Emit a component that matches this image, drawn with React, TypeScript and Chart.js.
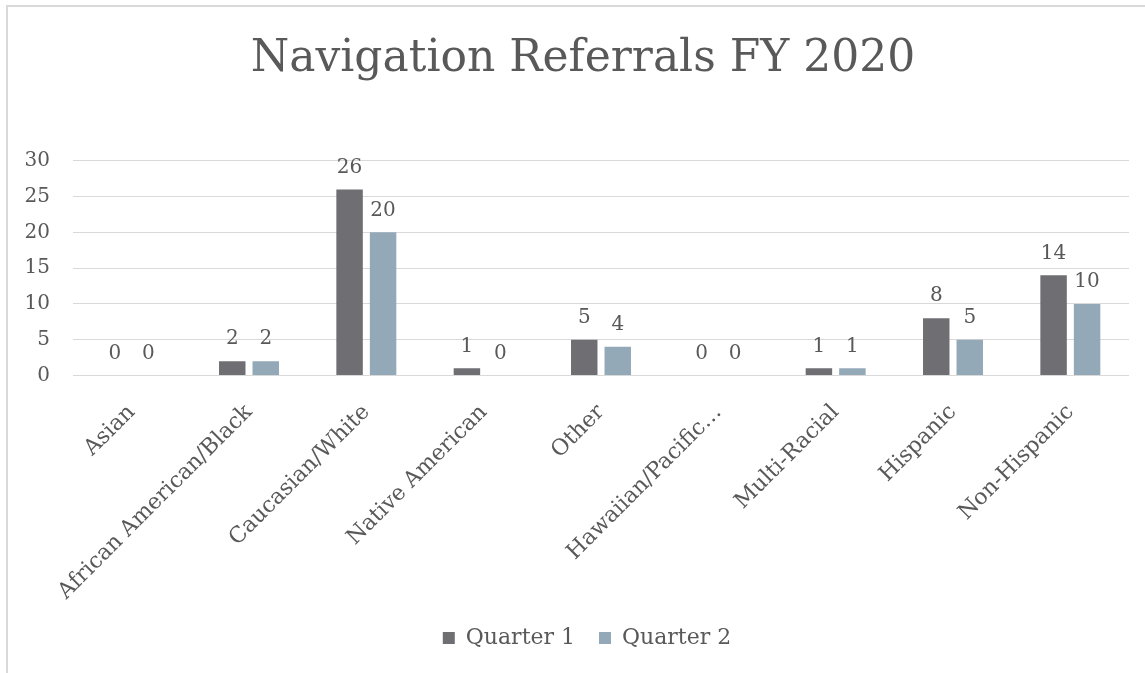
import React, { useEffect, useRef } from "react";
import { Chart, registerables } from "chart.js";

Chart.register(...registerables);

const categories = [
  "Asian",
  "African American/Black",
  "Caucasian/White",
  "Native American",
  "Other",
  "Hawaiian/Pacific…",
  "Multi-Racial",
  "Hispanic",
  "Non-Hispanic",
];
const quarter1 = [0, 2, 26, 1, 5, 0, 1, 8, 14];
const quarter2 = [0, 2, 20, 0, 4, 0, 1, 5, 10];
const seriesNames = ["Quarter 1", "Quarter 2"];
const seriesColors = ["#6f6e73", "#93a9b8"];
const titleText = "Navigation Referrals FY 2020";

const FONT = "'DejaVu Serif', serif";
const TEXT = "#595959";
const GRID = "#d9d9d9";

const borderPlugin = {
  id: "outerBorder",
  beforeDraw(chart: any) {
    const ctx = chart.ctx;
    ctx.save();
    ctx.fillStyle = "#ffffff";
    ctx.fillRect(0, 0, chart.width, chart.height);
    ctx.strokeStyle = GRID;
    ctx.lineWidth = 2;
    ctx.beginPath();
    ctx.moveTo(7, chart.height);
    ctx.lineTo(7, 6);
    ctx.lineTo(chart.width, 6);
    ctx.stroke();
    ctx.restore();
  },
};

// The source chart's frame extends past the right edge of the picture, so
// its title and legend are centred a little right of the visible middle.
const centreShiftPlugin = {
  id: "centreShift",
  afterLayout(chart: any) {
    if (chart.titleBlock) chart.titleBlock.left = 37;
    if (chart.legend) chart.legend.left = 45;
  },
};

const valueLabelPlugin = {
  id: "valueLabels",
  afterDatasetsDraw(chart: any) {
    const ctx = chart.ctx;
    ctx.save();
    ctx.font = `20px ${FONT}`;
    ctx.fillStyle = TEXT;
    ctx.textAlign = "center";
    ctx.textBaseline = "middle";
    chart.data.datasets.forEach((ds: any, i: number) => {
      const meta = chart.getDatasetMeta(i);
      meta.data.forEach((bar: any, j: number) => {
        ctx.fillText(String(ds.data[j]), bar.x, bar.y - 22);
      });
    });
    ctx.restore();
  },
};

export default function App() {
  const ref = useRef<HTMLCanvasElement | null>(null);
  useEffect(() => {
    if (!ref.current) return;
    const chart = new Chart(ref.current, {
      type: "bar",
      data: {
        labels: categories,
        datasets: [
          {
            label: seriesNames[0],
            data: quarter1,
            backgroundColor: seriesColors[0],
            categoryPercentage: 0.571,
            barPercentage: 0.79,
          },
          {
            label: seriesNames[1],
            data: quarter2,
            backgroundColor: seriesColors[1],
            categoryPercentage: 0.571,
            barPercentage: 0.79,
          },
        ],
      },
      options: {
        responsive: false,
        animation: false,
        layout: { padding: { left: 10, right: 16, top: 0, bottom: 14 } },
        plugins: {
          title: {
            display: true,
            text: titleText,
            color: TEXT,
            font: { family: FONT, size: 44, weight: "normal" },
            padding: { top: 33, bottom: 75 },
          },
          legend: {
            position: "bottom",
            labels: {
              color: TEXT,
              font: { family: FONT, size: 22 },
              boxWidth: 12,
              boxHeight: 12,
              padding: 24,
            },
          },
          tooltip: { enabled: false },
        },
        scales: {
          x: {
            grid: { display: false },
            border: { display: false },
            ticks: {
              color: TEXT,
              font: { family: FONT, size: 22 },
              minRotation: 45,
              maxRotation: 45,
              autoSkip: false,
              padding: 16,
            },
            afterFit(scale: any) {
              scale.height = 227.5;
            },
          },
          y: {
            min: 0,
            max: 30,
            grid: { color: GRID, lineWidth: 1, drawTicks: false },
            border: { display: false },
            ticks: {
              stepSize: 5,
              color: TEXT,
              font: { family: FONT, size: 20 },
              padding: 23,
            },
            afterFit(scale: any) {
              scale.width = 63;
            },
          },
        },
      },
      plugins: [borderPlugin, centreShiftPlugin, valueLabelPlugin],
    });
    return () => chart.destroy();
  }, []);
  return (
    <div style={{ position: "absolute", left: 0, top: 0, width: 1145, height: 673, background: "#fff" }}>
      <canvas ref={ref} width={1145} height={673} style={{ width: 1145, height: 673, display: "block" }} />
    </div>
  );
}
